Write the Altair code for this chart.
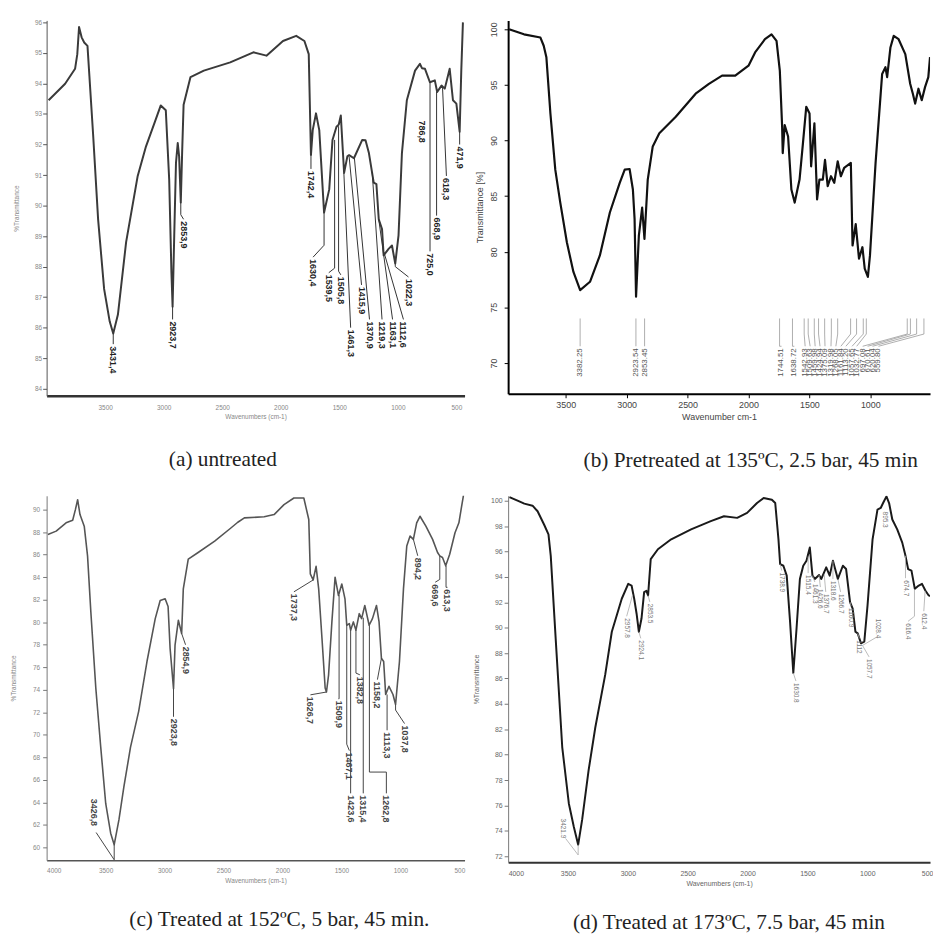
import altair as alt
import pandas as pd

FONT = "Liberation Sans"
SERIF = "Liberation Serif"

# ---------------- (a) untreated ----------------
a_wn = [3983, 3842, 3757, 3738, 3723, 3701, 3679, 3651, 3602, 3560, 3509, 3461, 3431, 3391, 3321, 3222, 3151, 3080, 3025, 2982,
        2953, 2934, 2924, 2910, 2895, 2880, 2868, 2854, 2842, 2830, 2771, 2657, 2432, 2234, 2122, 1981, 1868, 1798, 1761, 1742,
        1727, 1699, 1671, 1630, 1586, 1558, 1524, 1505, 1487, 1459, 1431, 1416, 1375, 1304, 1276, 1247, 1206, 1183, 1163, 1135,
        1121, 1079, 1050, 1022, 994, 965, 923, 853, 811, 794, 768, 726, 684, 664, 627, 599, 557, 529, 500, 472, 458, 444]
a_T = [93.45, 93.99, 94.48, 94.96, 95.85, 95.51, 95.34, 95.23, 92.27, 89.54, 87.27, 86.2, 85.81, 86.43, 88.8, 90.97, 91.94, 92.69, 93.28, 93.12,
       90.85, 87.82, 86.69, 89.0, 91.4, 92.05, 91.6, 90.1, 91.8, 93.3, 94.21, 94.42, 94.69, 95.02, 94.91, 95.39, 95.56, 95.39, 94.96, 91.66,
       92.47, 93.02, 92.47, 89.77, 90.53, 92.15, 92.58, 92.65, 92.95, 91.07, 91.61, 91.65, 91.55, 92.15, 92.14, 91.72, 90.75, 90.7, 89.55, 89.23,
       88.37, 88.58, 88.69, 88.1, 89.02, 91.72, 93.45, 94.42, 94.64, 94.5, 94.48, 94.04, 94.1, 93.72, 93.93, 93.83, 94.48, 93.45, 93.34, 92.42, 94.42, 96.0]
a_lab = ["3431,4", "2923,7", "2853,9", "1742,4", "1630,4", "1539,5", "1505,8", "1461,3", "1415,9", "1370,9",
         "1219,3", "1163,1", "1112,6", "1022,3", "786,8", "725,0", "668,9", "618,3", "471,9"]
a_pk_wn = [3431, 2924, 2854, 1742, 1630, 1540, 1506, 1461, 1416, 1371, 1219, 1163, 1113, 1022, 797, 725, 669, 618, 472]
a_pk_T = [85.81, 86.69, 90.1, 91.66, 89.77, 92.15, 92.6, 91.07, 91.6, 91.55, 91.1, 89.55, 88.4, 88.1, 92.85, 94.04, 93.72, 93.85, 92.42]
a_k1_T = [85.46, 86.27, 89.7, 91.2, 88.7, 87.95, 87.85, 91.07, 91.6, 91.55, 91.1, 89.55, 88.4, 88.0, 92.85, 88.5, 89.67, 93.85, 92.0]
a_end_wn = [3431, 2924, 2830, 1742, 1724, 1590, 1487, 1403, 1310, 1242, 1135, 1045, 952, 909, 797, 725, 669, 585, 472]
a_end_T = [85.46, 86.27, 89.55, 91.2, 88.31, 87.8, 87.73, 86.0, 87.4, 86.27, 86.27, 86.27, 86.27, 87.66, 92.85, 88.5, 89.67, 90.97, 92.0]

# ---------------- (b) 135 C ----------------
b_wn = [3965, 3843, 3708, 3681, 3659, 3626, 3586, 3545, 3491, 3437, 3382, 3301, 3220, 3138, 3057, 3016, 2976, 2949, 2935, 2923,
        2900, 2873, 2854, 2827, 2786, 2732, 2597, 2434, 2325, 2217, 2109, 2000, 1946, 1865, 1811, 1770, 1743, 1724, 1719, 1703,
        1675, 1648, 1621, 1581, 1553, 1526, 1499, 1486, 1459, 1437, 1418, 1390, 1372, 1350, 1323, 1296, 1268, 1242, 1215, 1160,
        1146, 1120, 1093, 1065, 1046, 1020, 1003, 957, 903, 876, 862, 835, 808, 768, 713, 673, 651, 632, 605, 578, 551, 524, 510]
b_T = [100.0, 99.55, 99.26, 98.52, 97.48, 92.43, 87.38, 84.42, 80.85, 78.18, 76.55, 77.3, 79.67, 83.53, 86.2, 87.38, 87.44, 85.6, 82.93, 75.96,
       81.45, 83.97, 81.15, 86.49, 89.47, 90.65, 92.14, 94.21, 95.1, 95.84, 95.84, 96.73, 97.92, 99.11, 99.55, 98.96, 96.29, 91.25, 88.87, 91.39,
       90.36, 85.6, 84.42, 86.49, 89.76, 93.03, 92.43, 87.68, 91.54, 84.71, 86.49, 86.49, 88.27, 85.9, 86.79, 86.2, 88.13, 86.79, 87.53, 87.98,
       80.56, 82.49, 79.37, 80.41, 78.48, 77.74, 79.67, 87.98, 95.99, 96.59, 95.7, 98.37, 99.41, 99.11, 97.77, 95.1, 94.21, 93.32, 94.66, 93.62,
       94.8, 95.7, 97.5]
b_lab = ["3382.25", "2923.54", "2853.45", "1744.51", "1638.72", "1542.93", "1509.63", "1459.98", "1424.94", "1375.09",
         "1319.98", "1268.05", "1161.84", "1113.20", "1057.65", "1032.77", "697.08", "670.61", "620.04", "559.80"]
b_pk_wn = [3382, 2924, 2853, 1745, 1639, 1543, 1510, 1460, 1425, 1375, 1320, 1268, 1162, 1113, 1058, 1033, 697, 671, 620, 560]
b_pk_T = [74.0, 74.0, 74.0, 74.0, 74.0, 74.0, 74.0, 74.0, 74.0, 74.0, 74.0, 74.0, 74.0, 74.0, 74.0, 74.0, 74.0, 74.0, 74.0, 74.0]
b_k1_T = [71.5, 71.5, 71.5, 71.5, 71.5, 72.6, 72.6, 72.6, 72.6, 72.6, 72.6, 72.6, 72.6, 72.6, 72.6, 72.6, 72.6, 72.6, 72.6, 72.6]
b_end_wn = [3382, 2924, 2853, 1729, 1624, 1535, 1494, 1453, 1413, 1372, 1323, 1283, 1242, 1201, 1150, 1112, 1063, 1022, 982, 933]
b_end_T = [71.5, 71.5, 71.5, 71.5, 71.5, 71.5, 71.5, 71.5, 71.5, 71.5, 71.5, 71.5, 71.5, 71.5, 71.5, 71.5, 71.5, 71.5, 71.5, 71.5]

# ---------------- (c) 152 C ----------------
c_wn = [3989, 3919, 3835, 3779, 3756, 3737, 3717, 3681, 3653, 3625, 3583, 3541, 3499, 3457, 3427, 3387, 3345, 3289, 3219, 3149,
        3079, 3037, 2995, 2970, 2953, 2924, 2911, 2883, 2855, 2841, 2799, 2715, 2575, 2435, 2379, 2323, 2155, 2071, 1987, 1903,
        1819, 1777, 1764, 1740, 1715, 1693, 1665, 1638, 1627, 1609, 1581, 1554, 1525, 1497, 1470, 1455, 1433, 1422, 1399, 1377,
        1349, 1329, 1302, 1265, 1237, 1203, 1181, 1161, 1142, 1125, 1097, 1063, 1041, 1008, 974, 946, 918, 890, 862, 834,
        784, 727, 685, 666, 643, 616, 582, 537, 504, 481, 462]
c_T = [87.8, 88.09, 88.83, 89.06, 90.0, 90.88, 89.56, 88.53, 85.89, 80.91, 74.16, 68.88, 63.9, 61.26, 60.24, 62.44, 65.37, 68.88, 72.11, 76.51,
       80.32, 81.93, 82.08, 81.4, 77.68, 74.1, 77.97, 80.17, 79.0, 82.96, 85.6, 86.19, 87.21, 88.39, 88.88, 89.27, 89.36, 89.56, 90.44, 91.03,
       91.03, 89.12, 84.3, 83.75, 84.96, 82.96, 78.56, 74.16, 73.8, 75.33, 80.03, 84.0, 82.37, 83.4, 82.08, 79.73, 79.88, 79.29, 80.03, 79.29,
       80.76, 80.32, 81.49, 79.73, 80.32, 81.49, 80.03, 76.8, 76.51, 73.58, 74.31, 73.58, 72.69, 76.51, 82.96, 86.77, 87.65, 87.36, 88.83, 89.41,
       88.53, 87.36, 86.19, 85.89, 85.75, 85.01, 86.04, 87.95, 88.83, 90.29, 91.46]
c_lab = ["3426,8", "2923,8", "2854,9", "1737,3", "1626,7", "1509,9", "1467,1", "1423,6", "1382,8", "1315,4",
         "1262,8", "1158,2", "1113,3", "1037,8", "894,2", "669,6", "613,3"]
c_pk_wn = [3427, 2924, 2855, 1740, 1627, 1520, 1455, 1422, 1377, 1315, 1263, 1161, 1113, 1041, 890, 666, 613]
c_pk_T = [60.24, 74.1, 79.0, 83.75, 73.8, 82.4, 79.73, 79.29, 79.29, 80.4, 79.73, 76.8, 73.58, 72.69, 87.36, 85.89, 85.01]
c_k1_T = [58.9, 71.6, 79.0, 83.75, 73.8, 73.2, 69.17, 64.8, 75.48, 64.8, 66.69, 76.8, 70.4, 72.2, 87.36, 83.8, 83.1]
c_k2_T = [61.32, 71.6, 78.0, 82.7, 73.55, 73.2, 68.6, 64.8, 75.33, 64.8, 66.69, 74.9, 70.4, 71.0, 85.9, 83.55, 83.1]
c_end_wn = [3580, 2924, 2822, 1903, 1763, 1525, 1433, 1422, 1344, 1315, 1119, 1195, 1113, 965, 853, 705, 601]
c_end_T = [61.32, 71.6, 78.0, 82.7, 73.55, 73.2, 68.6, 64.8, 75.33, 64.8, 64.8, 74.9, 70.4, 71.0, 85.9, 83.55, 83.1]
c_txt_wn = [3597, 2924, 2822, 1903, 1763, 1525, 1433, 1422, 1344, 1315, 1119, 1195, 1113, 965, 853, 705, 601]
c_txt_T = [64.49, 71.6, 78.0, 82.7, 73.55, 73.2, 68.6, 64.8, 75.33, 64.8, 64.8, 74.9, 70.4, 71.0, 85.9, 83.55, 83.1]

# ---------------- (d) 173 C ----------------
d_wn = [3989, 3907, 3865, 3796, 3754, 3700, 3663, 3644, 3603, 3548, 3493, 3452, 3415, 3382, 3328, 3272, 3189, 3134, 3051, 2997,
        2969, 2947, 2927, 2908, 2886, 2864, 2845, 2831, 2809, 2749, 2638, 2472, 2307, 2197, 2087, 2004, 1921, 1866, 1797, 1769,
        1742, 1728, 1701, 1673, 1645, 1618, 1591, 1563, 1535, 1508, 1480, 1458, 1438, 1403, 1384, 1343, 1314, 1287, 1246, 1204,
        1177, 1144, 1122, 1099, 1080, 1053, 1025, 998, 956, 915, 888, 868, 840, 818, 791, 750, 708, 681, 659, 631,
        603, 570, 543, 515, 487, 476]
d_T = [100.29, 99.95, 99.77, 99.61, 99.17, 98.13, 97.35, 95.66, 89.16, 80.58, 76.16, 74.34, 72.91, 74.86, 78.76, 82.14, 86.3, 89.68, 92.28, 93.45,
       93.32, 92.28, 91.1, 89.68, 90.72, 92.8, 92.9, 92.54, 95.4, 96.18, 96.96, 97.74, 98.39, 98.78, 98.65, 99.04, 99.82, 100.21, 100.08, 99.82,
       96.96, 95.0, 94.88, 94.1, 90.46, 86.43, 89.94, 93.84, 94.88, 95.27, 96.31, 94.1, 93.84, 94.15, 93.84, 94.75, 94.1, 95.27, 93.84, 94.88,
       94.62, 92.02, 91.5, 89.68, 89.55, 88.77, 88.9, 91.76, 96.96, 99.3, 99.43, 99.82, 100.34, 99.82, 98.52, 97.74, 96.7, 95.66, 94.62, 94.49,
       93.06, 93.32, 93.45, 92.93, 92.54, 92.5]
d_lab = ["3421.9", "2957.8", "2924.1", "2853.5", "1738.9", "1630.8", "1515.4", "1461.3", "1426.6", "1376.7",
         "1318.6", "1266.7", "1160.9", "1112", "1057.7", "1028.4", "895.3", "674.7", "616.4", "612.4"]
d_pk_wn = [3415, 2960, 2908, 2831, 1728, 1618, 1494, 1458, 1403, 1360, 1287, 1246, 1144, 1080, 1040, 1040, 851, 681, 606, 517]
d_pk_T = [72.91, 92.6, 89.68, 92.54, 95.0, 86.43, 95.6, 94.1, 94.15, 94.2, 95.27, 93.84, 92.02, 89.55, 88.6, 88.6, 99.3, 95.66, 93.0, 92.9]
d_k1_T = [72.1, 92.6, 89.68, 92.54, 95.0, 86.43, 95.6, 94.1, 94.15, 94.2, 95.27, 93.84, 92.02, 89.55, 88.6, 88.6, 99.3, 95.66, 90.9, 92.9]
d_end_wn = [3520, 3010, 2892, 2817, 1715, 1596, 1494, 1438, 1392, 1347, 1287, 1223, 1136, 1066, 985, 915, 851, 681, 660, 528]
d_end_T = [73.4, 90.9, 89.16, 92.04, 94.5, 85.8, 94.3, 93.6, 93.2, 92.82, 93.84, 92.82, 91.7, 89.16, 87.7, 89.3, 99.3, 93.9, 90.5, 91.3]
d_txt_wn = [3545, 3010, 2892, 2817, 1715, 1596, 1494, 1438, 1392, 1347, 1287, 1223, 1136, 1066, 985, 907, 851, 681, 660, 528]
d_txt_T = [75.12, 90.9, 89.16, 92.04, 94.5, 85.8, 94.3, 93.6, 93.2, 92.82, 93.84, 92.82, 91.7, 89.16, 87.7, 90.87, 99.3, 93.9, 90.5, 91.3]

captions = ["(a) untreated", "(b) Pretreated at 135\u00baC, 2.5 bar, 45 min",
            "(c) Treated at 152\u00baC, 5 bar, 45 min.", "(d) Treated at 173\u00baC, 7.5 bar, 45 min"]


def panel(wn, T, lab, pk_wn, pk_T, k1_T, end_wn, end_T, k2_T=None, txt_wn=None, txt_T=None, *,
          xdom, ydom, w, h, xaxis, yaxis, line_color, line_width, lab_size, lab_color, lab_weight,
          lab_angle, lead_color, lead_width, caption, cap_dx, cap_offset):
    k2_T = k2_T if k2_T is not None else end_T
    txt_wn = txt_wn if txt_wn is not None else end_wn
    txt_T = txt_T if txt_T is not None else end_T
    xs = alt.Scale(domain=xdom, reverse=True, zero=False, nice=False)
    ys = alt.Scale(domain=ydom, zero=False, nice=False)
    curve = pd.DataFrame({"wn": wn, "T": T})
    segs = []
    for i in range(len(lab)):
        pts = [(pk_wn[i], pk_T[i]), (pk_wn[i], k1_T[i]), (end_wn[i], k2_T[i]), (end_wn[i], end_T[i])]
        for j in range(3):
            segs.append({"wn": pts[j][0], "T": pts[j][1], "wn2": pts[j + 1][0], "T2": pts[j + 1][1]})
    segs = pd.DataFrame(segs)
    texts = pd.DataFrame({"wn": txt_wn, "T": txt_T, "lab": lab})
    X = alt.X("wn:Q", scale=xs, axis=xaxis)
    Y = alt.Y("T:Q", scale=ys, axis=yaxis)
    line = alt.Chart(curve).mark_line(color=line_color, strokeWidth=line_width, clip=True,
                                      strokeJoin="round").encode(x=X, y=Y)
    lead = alt.Chart(segs).mark_rule(color=lead_color, strokeWidth=lead_width).encode(
        x=X, y=Y, x2="wn2:Q", y2="T2:Q")
    if lab_angle == 90:
        align, dx = "left", 2
    else:
        align, dx = "right", -2
    txt = alt.Chart(texts).mark_text(angle=lab_angle, align=align, baseline="middle", dx=dx,
                                     fontSize=lab_size, font=FONT, fontWeight=lab_weight,
                                     color=lab_color).encode(x=X, y=Y, text="lab:N")
    title = alt.TitleParams(caption, orient="bottom", anchor="middle", frame="group", dx=cap_dx,
                            offset=cap_offset, font=SERIF, fontSize=21.5, fontWeight="normal",
                            color="#222222")
    return alt.layer(line, lead, txt).properties(width=w, height=h, title=title)


def xax(values, title, dom_color, dom_width, lsize, lcolor, lpad, tpad, ticks=False, tick_size=0):
    return alt.Axis(values=values, format="d", title=title, grid=False, domainColor=dom_color,
                    domainWidth=dom_width, ticks=ticks, tickSize=tick_size, tickColor=dom_color,
                    labelFontSize=lsize, labelColor=lcolor, labelPadding=lpad, labelFont=FONT,
                    titleFont=FONT, titleFontSize=lsize, titleColor=lcolor, titleFontWeight="normal",
                    titlePadding=tpad)


def yax(values, title, dom_color, dom_width, lsize, lcolor, lpad, title_x, label_angle=0):
    kw = {}
    if label_angle:
        kw = {"labelAngle": label_angle, "labelAlign": "center", "labelBaseline": "bottom"}
    return alt.Axis(values=values, format="d", title=title, grid=False, domainColor=dom_color,
                    domainWidth=dom_width, tickColor=dom_color, tickSize=4, labelFontSize=lsize,
                    labelColor=lcolor, labelPadding=lpad, labelFont=FONT, titleFont=FONT,
                    titleFontSize=lsize, titleColor=lcolor, titleFontWeight="normal",
                    titleX=title_x, titleBaseline="middle", **kw)


xv_a = [3500, 3000, 2500, 2000, 1500, 1000, 500]
xv_b = [3500, 3000, 2500, 2000, 1500, 1000]
xv_cd = [4000, 3500, 3000, 2500, 2000, 1500, 1000, 500]

pa = panel(a_wn, a_T, a_lab, a_pk_wn, a_pk_T, a_k1_T, a_end_wn, a_end_T,
           xdom=[430, 4000], ydom=[83.77, 96.065], w=422, h=379,
           xaxis=xax(xv_a, "Wavenumbers (cm-1)", "#333333", 2.5, 6.5, "#888888", 9, 2),
           yaxis=yax(list(range(84, 97)), "%Transmittance", "#555555", 1, 6.5, "#888888", 1, -30),
           line_color="#3a3a3a", line_width=2, lab_size=9, lab_color="#222222", lab_weight="bold",
           lab_angle=90, lead_color="#333333", lead_width=1, caption=captions[0], cap_dx=-33, cap_offset=30)

pb = panel(b_wn, b_T, b_lab, b_pk_wn, b_pk_T, b_k1_T, b_end_wn, b_end_T,
           xdom=[510, 3973], ydom=[67.23, 100.8], w=426, h=377,
           xaxis=xax(xv_b, "Wavenumber cm-1", "#000000", 2, 9, "#444444", 3, 3, ticks=True, tick_size=4),
           yaxis=yax([70, 75, 80, 85, 90, 95, 100], "Transmittance [%]", "#000000", 2, 9, "#444444", 6, -29,
                     label_angle=270),
           line_color="#111111", line_width=2.2, lab_size=8, lab_color="#555555", lab_weight="normal",
           lab_angle=270, lead_color="#999999", lead_width=0.8, caption=captions[1], cap_dx=32, cap_offset=29)

pc = panel(c_wn, c_T, c_lab, c_pk_wn, c_pk_T, c_k1_T, c_end_wn, c_end_T, c_k2_T, c_txt_wn, c_txt_T,
           xdom=[456, 4000], ydom=[58.86, 91.23], w=422, h=368,
           xaxis=xax(xv_cd, "Wavenumbers (cm-1)", "#555555", 1.5, 6.5, "#888888", 7, 4),
           yaxis=yax(list(range(60, 91, 2)), "%Transmittance", "#777777", 1, 6.5, "#888888", 3, -33),
           line_color="#555555", line_width=1.6, lab_size=9, lab_color="#444444", lab_weight="bold",
           lab_angle=90, lead_color="#444444", lead_width=1, caption=captions[2], cap_dx=24, cap_offset=25)

pd_ = panel(d_wn, d_T, d_lab, d_pk_wn, d_pk_T, d_k1_T, d_end_wn, d_end_T, None, d_txt_wn, d_txt_T,
            xdom=[476, 4000], ydom=[71.53, 100.39], w=426, h=370,
            xaxis=xax(xv_cd, "Wavenumbers (cm-1)", "#333333", 2, 7, "#666666", 7, 4),
            yaxis=yax(list(range(72, 101, 2)), "%Transmittance", "#777777", 1, 7, "#666666", 2, -32),
            line_color="#1a1a1a", line_width=2, lab_size=6.5, lab_color="#777777", lab_weight="normal",
            lab_angle=90, lead_color="#aaaaaa", lead_width=0.8, caption=captions[3], cap_dx=10, cap_offset=25)

chart = alt.concat(pa, pb, pc, pd_, columns=2, spacing={"row": 101, "column": 44}, bounds="flush").properties(
    padding={"left": 3, "top": 7, "right": 0, "bottom": 0}, background="white"
).configure_view(stroke=None)

chart.save("out.html", embed_options={"renderer": "svg", "actions": False})
